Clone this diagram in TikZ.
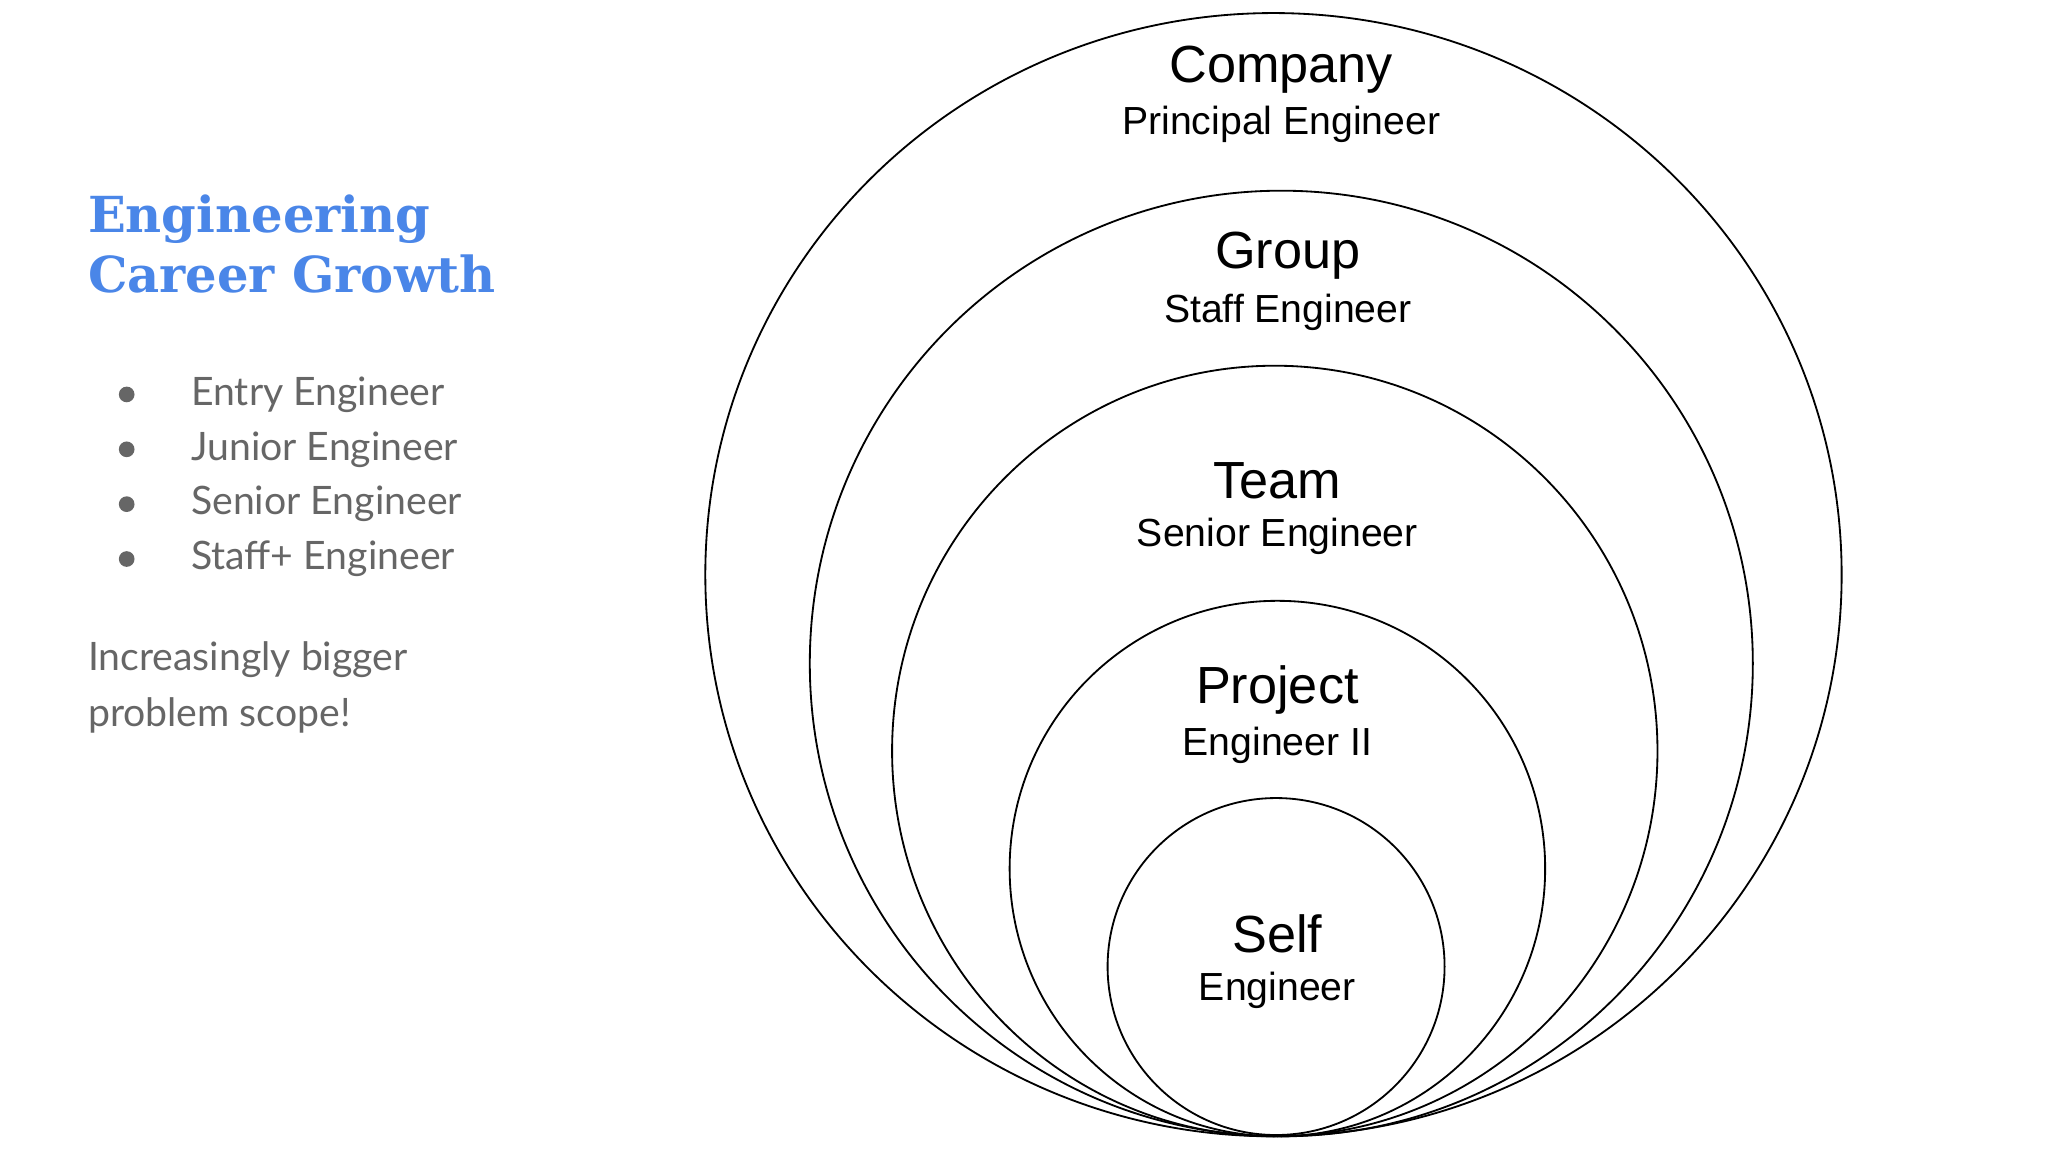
\documentclass[tikz,border=0pt]{standalone}
\usepackage{fontspec}
\setmainfont{Liberation Sans}
\newfontfamily\lato{Lato}
\newfontfamily\slab{DejaVu Serif}
\definecolor{ttl}{HTML}{4A86E8}
\definecolor{gtxt}{HTML}{666666}
\begin{document}
\begin{tikzpicture}[x=0.5pt,y=-0.5pt,
  ring/.style={draw=black,line width=0.7pt},
  big/.style={font=\fontsize{20}{22}\selectfont},
  small/.style={font=\fontsize{15}{17}\selectfont},
  item/.style={anchor=west,text=gtxt,font=\lato\fontsize{15}{17}\selectfont},
  dot/.style={circle,fill=gtxt,inner sep=0pt,minimum size=6pt}]
\useasboundingbox[fill=white] (0,0) rectangle (1568,882);
\draw[ring] (975,440) ellipse [x radius=435,y radius=430];
\draw[ring] (981,508) ellipse [x radius=361,y radius=362];
\draw[ring] (976,575) ellipse [x radius=293,y radius=295];
\draw[ring] (978,665) ellipse [x radius=205,y radius=205];
\draw[ring] (977,740) ellipse [x radius=129,y radius=129];
\node[big] (c1) at (981,53) {Company};
\node[small] (c2) at (981,95) {Principal Engineer};
\node[big] (g1) at (986,196) {Group};
\node[small] (g2) at (986,239) {Staff Engineer};
\node[big] (t1) at (978,368) {Team};
\node[small] (t2) at (978,411) {Senior Engineer};
\node[big] (p1) at (978,528) {Project};
\node[small] (p2) at (978,571) {Engineer II};
\node[big] (s1) at (978,715) {Self};
\node[small] (s2) at (978,758) {Engineer};
\node[anchor=north west,align=left,text=ttl,inner sep=0pt,font=\slab\bfseries\fontsize{19}{23}\selectfont] (title) at (67,149) {Engineering\\Career Growth};
\foreach \t/\y [count=\i] in {Entry Engineer/302,Junior Engineer/344,Senior Engineer/386,Staff+ Engineer/428}{
  \node[dot] (d\i) at (97,\y) {};
  \node[item,inner sep=0pt] (b\i) at (146,\y) {\t};
}
\node[item,inner sep=0pt] (n1) at (67,505) {Increasingly bigger};
\node[item,inner sep=0pt] (n2) at (67,548) {problem scope!};
\end{tikzpicture}
\end{document}
